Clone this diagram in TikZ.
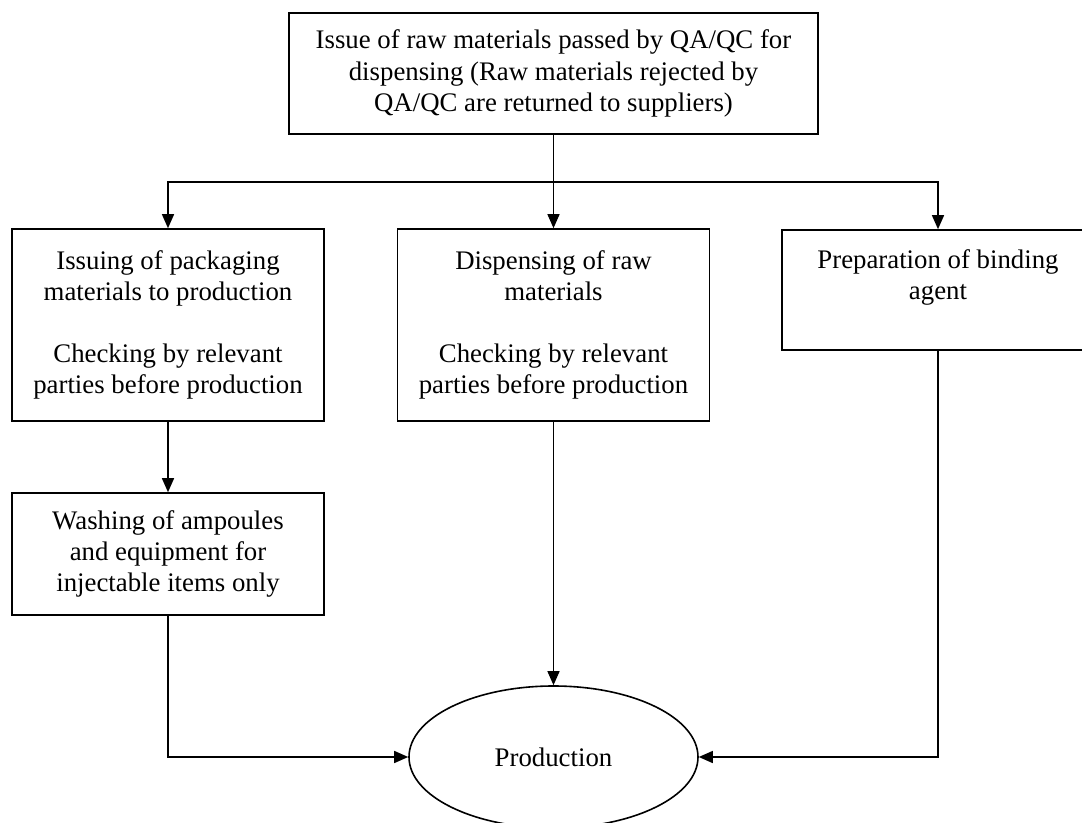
\documentclass[tikz,border=0pt]{standalone}
\usepackage{fontspec}
\setmainfont{Liberation Serif}
\usetikzlibrary{shapes.geometric,arrows.meta}

\begin{document}
\begin{tikzpicture}[x=0.5pt,y=-0.5pt]
        \tikzset{box/.style = {shape=rectangle,draw,line width=0.8pt,align=center,inner sep=0pt,
                               minimum width=156pt,font=\fontsize{13.4}{15.6}\selectfont},
                 flow/.style = {line width=0.7pt,-{Triangle[length=7pt,width=6pt]}}}
        \useasboundingbox (0,0) rectangle (1082,823);
        % boxes
        \node[box,minimum width=264.5pt,minimum height=60.5pt] (issue) at (553.5,73.5)
            {Issue of raw materials passed by QA/QC for\\dispensing (Raw materials rejected by\\QA/QC are returned to suppliers)};
        \node[box,minimum height=96pt] (pack) at (168,325)
            {Issuing of packaging\\materials to production\\[15pt]Checking by relevant\\parties before production};
        \node[box,minimum height=96pt] (disp) at (553.5,325)
            {Dispensing of raw\\materials\\[15pt]Checking by relevant\\parties before production};
        \node[box,minimum height=60pt] (bind) at (938,290)
            {Preparation of binding\\agent\\ \mbox{}};
        \node[box,minimum height=61pt] (wash) at (168,554)
            {Washing of ampoules\\and equipment for\\injectable items only};
        \node[box,shape=ellipse,minimum width=144.5pt,minimum height=71pt] (prod) at (553.5,757) {Production};
        % arrows
        \coordinate (split) at (553.5,182);
        \draw[line width=0.7pt] (issue) -- (split);
        \draw[flow] (split) -| (pack);
        \draw[flow] (split) -- (disp);
        \draw[flow] (split) -| (bind);
        \draw[flow] (pack) -- (wash);
        \draw[flow] (wash) |- (prod);
        \draw[flow] (disp) -- (prod);
        \draw[flow] (bind) |- (prod);
\end{tikzpicture}
\end{document}
